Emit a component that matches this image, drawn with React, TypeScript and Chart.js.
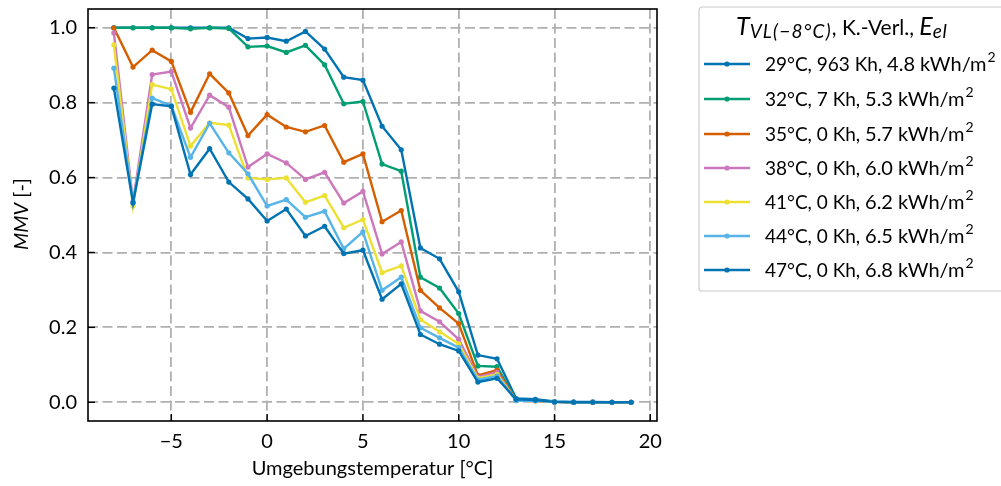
import React, { useEffect, useRef } from "react";
import { Chart, registerables } from "chart.js";

Chart.register(...registerables);

const temps = [-8, -7, -6, -5, -4, -3, -2, -1, 0, 1, 2, 3, 4, 5, 6, 7, 8, 9, 10, 11, 12, 13, 14, 15, 16, 17, 18, 19];

const s29 = [1.0, 1.0, 1.0, 1.0, 1.0, 1.0, 1.0, 0.971, 0.974, 0.964, 0.99, 0.943, 0.868, 0.86, 0.737, 0.674, 0.412, 0.383, 0.295, 0.126, 0.116, 0.01, 0.008, 0.002, 0.001, 0.001, 0.0, 0.0];
const s32 = [1.0, 1.0, 1.0, 1.0, 0.997, 1.0, 0.998, 0.949, 0.951, 0.934, 0.953, 0.901, 0.797, 0.803, 0.636, 0.617, 0.334, 0.305, 0.237, 0.097, 0.095, 0.006, 0.005, 0.001, 0.0, 0.0, 0.0, 0.0];
const s35 = [1.0, 0.895, 0.94, 0.91, 0.774, 0.877, 0.826, 0.712, 0.768, 0.735, 0.722, 0.739, 0.641, 0.663, 0.482, 0.512, 0.299, 0.252, 0.21, 0.072, 0.086, 0.005, 0.004, 0.001, 0.0, 0.0, 0.0, 0.0];
const s38 = [0.986, 0.535, 0.875, 0.883, 0.732, 0.82, 0.788, 0.628, 0.663, 0.639, 0.595, 0.614, 0.532, 0.563, 0.396, 0.428, 0.244, 0.215, 0.168, 0.068, 0.08, 0.005, 0.004, 0.001, 0.0, 0.0, 0.0, 0.0];
const s41 = [0.954, 0.524, 0.848, 0.836, 0.684, 0.746, 0.74, 0.599, 0.595, 0.599, 0.534, 0.552, 0.466, 0.488, 0.346, 0.364, 0.221, 0.188, 0.156, 0.064, 0.074, 0.005, 0.004, 0.001, 0.0, 0.0, 0.0, 0.0];
const s44 = [0.892, 0.535, 0.812, 0.792, 0.654, 0.745, 0.666, 0.61, 0.524, 0.541, 0.494, 0.51, 0.41, 0.455, 0.299, 0.334, 0.199, 0.172, 0.146, 0.06, 0.07, 0.004, 0.004, 0.001, 0.0, 0.0, 0.0, 0.0];
const s47 = [0.839, 0.532, 0.796, 0.79, 0.608, 0.677, 0.588, 0.543, 0.484, 0.516, 0.444, 0.47, 0.397, 0.406, 0.275, 0.316, 0.181, 0.155, 0.137, 0.054, 0.064, 0.008, 0.006, 0.001, 0.0, 0.0, 0.0, 0.0];

const seriesValues = [s29, s32, s35, s38, s41, s44, s47];
const seriesLabelsA = ["29°C, 963 Kh, ", "32°C, 7 Kh, ", "35°C, 0 Kh, ", "38°C, 0 Kh, ", "41°C, 0 Kh, ", "44°C, 0 Kh, ", "47°C, 0 Kh, "];
const seriesLabelsB = ["4.8 kWh/m", "5.3 kWh/m", "5.7 kWh/m", "6.0 kWh/m", "6.2 kWh/m", "6.5 kWh/m", "6.8 kWh/m"];
const seriesColors = ["#0173B2", "#029E73", "#D55E00", "#CC78BC", "#ECE133", "#56B4E9", "#0173B2"];

const xTicks = [-5, 0, 5, 10, 15, 20];
const yTicks = [0, 0.2, 0.4, 0.6, 0.8, 1.0];

const FONT = "Lato, 'Open Sans', sans-serif";

const framePlugin = {
  id: "frameAndLegend",
  afterDraw(chart: any) {
    const ctx = chart.ctx as CanvasRenderingContext2D;
    const { left, right, top, bottom } = chart.chartArea;
    const xs = chart.scales.x;
    const ys = chart.scales.y;
    ctx.save();
    ctx.strokeStyle = "#000";
    ctx.lineWidth = 1.6;
    ctx.strokeRect(left, top, right - left, bottom - top);
    ctx.lineWidth = 1.4;
    xTicks.forEach((v) => {
      const px = xs.getPixelForValue(v);
      ctx.beginPath();
      ctx.moveTo(px, bottom);
      ctx.lineTo(px, bottom - 7);
      ctx.stroke();
    });
    yTicks.forEach((v) => {
      const py = ys.getPixelForValue(v);
      ctx.beginPath();
      ctx.moveTo(left, py);
      ctx.lineTo(left + 7, py);
      ctx.stroke();
    });

    ctx.fillStyle = "#000";
    ctx.textBaseline = "middle";
    ctx.textAlign = "center";
    ctx.font = `20px ${FONT}`;
    ctx.fillText("Umgebungstemperatur [°C]", (left + right) / 2, 469);

    ctx.save();
    ctx.translate(22, 214);
    ctx.rotate(-Math.PI / 2);
    ctx.textAlign = "left";
    ctx.font = `italic 20px ${FONT}`;
    const m = "MMV";
    const rest = " [-]";
    const wM = ctx.measureText(m).width;
    ctx.font = `20px ${FONT}`;
    const wR = ctx.measureText(rest).width;
    const start = -(wM + wR) / 2;
    ctx.font = `italic 20px ${FONT}`;
    ctx.fillText(m, start, 0);
    ctx.font = `20px ${FONT}`;
    ctx.fillText(rest, start + wM, 0);
    ctx.restore();

    const bx = 699, by = 7, bw = 320, bh = 284;
    ctx.fillStyle = "#fff";
    ctx.strokeStyle = "#cccccc";
    ctx.lineWidth = 1.2;
    ctx.beginPath();
    ctx.roundRect(bx, by, bw, bh, 3);
    ctx.fill();
    ctx.stroke();

    ctx.fillStyle = "#000";
    ctx.textAlign = "left";
    ctx.textBaseline = "alphabetic";
    let tx = 736;
    const tb = 35;
    const parts: [string, string, number, string][] = [
      ["T", `italic 25px ${FONT}`, 0, "0px"],
      ["VL(−8°C)", `italic 19px ${FONT}`, 3, "1.2px"],
      [", K.-Verl., ", `21px ${FONT}`, 0, "0px"],
      ["E", `italic 25px ${FONT}`, 0, "0px"],
      ["el", `italic 19px ${FONT}`, 3, "0.5px"],
    ];
    parts.forEach(([t, f, dy, ls]) => {
      ctx.font = f;
      (ctx as any).letterSpacing = ls;
      ctx.fillText(t, tx, tb + dy);
      tx += ctx.measureText(t).width;
    });
    (ctx as any).letterSpacing = "0px";

    const ys0 = [64, 99, 134, 168, 202, 236, 270];
    seriesValues.forEach((_, i) => {
      const yy = ys0[i];
      ctx.strokeStyle = seriesColors[i];
      ctx.lineWidth = 2.4;
      ctx.beginPath();
      ctx.moveTo(704, yy);
      ctx.lineTo(750, yy);
      ctx.stroke();
      ctx.fillStyle = seriesColors[i];
      ctx.beginPath();
      ctx.arc(727, yy, 2.6, 0, Math.PI * 2);
      ctx.fill();
      ctx.fillStyle = "#000";
      ctx.textBaseline = "middle";
      let x = 765;
      ctx.font = `19px ${FONT}`;
      ctx.fillText(seriesLabelsA[i], x, yy + 1);
      x += ctx.measureText(seriesLabelsA[i]).width;
      ctx.font = `20px ${FONT}`;
      ctx.fillText(seriesLabelsB[i], x, yy + 1);
      x += ctx.measureText(seriesLabelsB[i]).width;
      ctx.font = `14px ${FONT}`;
      ctx.fillText("2", x + 1, yy - 7);
    });
    ctx.restore();
  },
};

export default function App() {
  const ref = useRef<HTMLCanvasElement | null>(null);
  useEffect(() => {
    document.body.style.margin = "0";
    const canvas = ref.current!;
    const chart = new Chart(canvas, {
      type: "line",
      data: {
        datasets: seriesValues.map((vals, i) => ({
          label: seriesLabelsA[i] + seriesLabelsB[i] + "²",
          data: temps.map((t, j) => ({ x: t, y: vals[j] })),
          borderColor: seriesColors[i],
          backgroundColor: seriesColors[i],
          borderWidth: 2.4,
          pointRadius: 2.6,
          pointHoverRadius: 2.6,
          pointBorderWidth: 0,
          tension: 0,
          order: seriesValues.length - 1 - i,
        })),
      },
      options: {
        animation: false,
        responsive: false,
        maintainAspectRatio: false,
        layout: { padding: { left: 0, right: 344, top: 9, bottom: 0 } },
        plugins: { legend: { display: false }, tooltip: { enabled: false } },
        scales: {
          x: {
            type: "linear",
            min: -9.35,
            max: 20.35,
            afterFit: (s: any) => { s.height = 65; s.paddingLeft = 0; s.paddingRight = 0; },
            afterBuildTicks: (s: any) => { s.ticks = xTicks.map((v) => ({ value: v })); },
            grid: { color: "#b0b0b0", lineWidth: 1.8, drawTicks: false },
            border: { display: false, dash: [10, 4.5] },
            ticks: {
              padding: 9,
              color: "#000",
              font: { family: FONT, size: 20 },
              callback: (v: any) => (Number(v) < 0 ? "−" + Math.abs(Number(v)) : String(v)),
            },
          },
          y: {
            type: "linear",
            min: -0.05,
            max: 1.05,
            afterFit: (s: any) => { s.width = 88; s.paddingTop = 0; s.paddingBottom = 0; },
            afterBuildTicks: (s: any) => { s.ticks = yTicks.map((v) => ({ value: v })); },
            grid: { color: "#b0b0b0", lineWidth: 1.8, drawTicks: false },
            border: { display: false, dash: [10, 4.5] },
            ticks: {
              padding: 11,
              color: "#000",
              font: { family: FONT, size: 20 },
              callback: (v: any) => Number(v).toFixed(1),
            },
          },
        },
      },
      plugins: [framePlugin],
    });
    return () => chart.destroy();
  }, []);
  return (
    <div style={{ position: "relative", width: 1001, height: 486 }}>
      <canvas ref={ref} width={1001} height={486} style={{ display: "block", width: 1001, height: 486 }} />
    </div>
  );
}
